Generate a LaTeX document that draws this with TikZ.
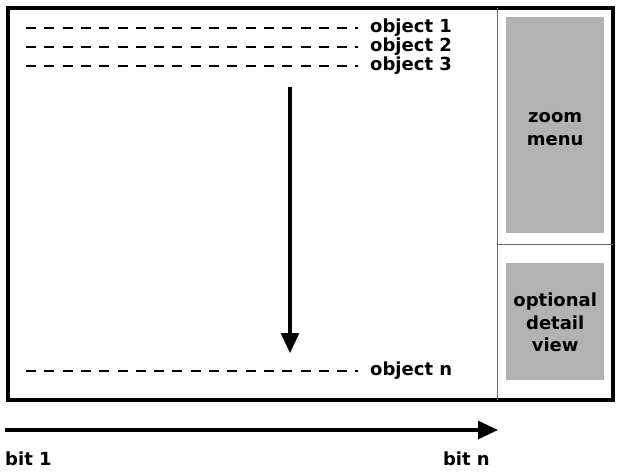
\documentclass[tikz,border=0pt]{standalone}
\usepackage{fontspec}
\setmainfont{DejaVu Sans}
\usetikzlibrary{arrows.meta}
\begin{document}
\begin{tikzpicture}[x=1pt,y=-1pt,
  lbl/.style={font=\bfseries\fontsize{18}{22.5}\selectfont, inner sep=0pt},
  objline/.style={line width=2.4pt, dash pattern=on 10pt off 8.3pt},
  graybox/.style={fill=black!30, draw=none},
  bigarrow/.style={line width=3.2pt, -{Triangle[length=20pt,width=18pt]}}]
\useasboundingbox (0,0) rectangle (621,473);
% frame
\draw[line width=3.5pt] (8,8) rectangle (613,400);
\draw[line width=0.8pt, black!60] (497,8) -- (497,400);
\draw[line width=0.8pt, black!60] (497,244) -- (613,244);
% gray boxes
\node[graybox, minimum width=98pt, minimum height=216pt, anchor=north west] (zoom) at (506,17) {};
\node[lbl, align=center] at ([yshift=-4pt]zoom.center) {zoom\\menu};
\node[graybox, minimum width=98pt, minimum height=117pt, anchor=north west] (detail) at (506,263) {};
\node[lbl, align=center] at ([yshift=-1pt]detail.center) {optional\\detail\\view};
% object lines
\node[lbl, anchor=west] (o1) at (370,28) {object 1};
\node[lbl, anchor=west] (o2) at (370,47) {object 2};
\node[lbl, anchor=west] (o3) at (370,66) {object 3};
\node[lbl, anchor=west] (on) at (370,371) {object n};
\coordinate (s1) at (26,28);
\coordinate (s2) at (26,47);
\coordinate (s3) at (26,66);
\coordinate (sn) at (26,371);
\draw[objline] (s1) -- ([xshift=-12pt]s1 -| o1.west);
\draw[objline] (s2) -- ([xshift=-12pt]s2 -| o2.west);
\draw[objline] (s3) -- ([xshift=-12pt]s3 -| o3.west);
\draw[objline] (sn) -- ([xshift=-12pt]sn -| on.west);
% vertical arrow
\coordinate (vtop) at (290,87);
\coordinate (vbot) at (290,353);
\draw[bigarrow] (vtop) -- (vbot);
% horizontal arrow
\coordinate (hl) at (5,430);
\coordinate (hr) at (498,430);
\draw[bigarrow] (hl) -- (hr);
\node[lbl, anchor=west] (b1) at (5,459) {bit 1};
\node[lbl, anchor=east] (bn) at (490,459) {bit n};
\end{tikzpicture}
\end{document}
